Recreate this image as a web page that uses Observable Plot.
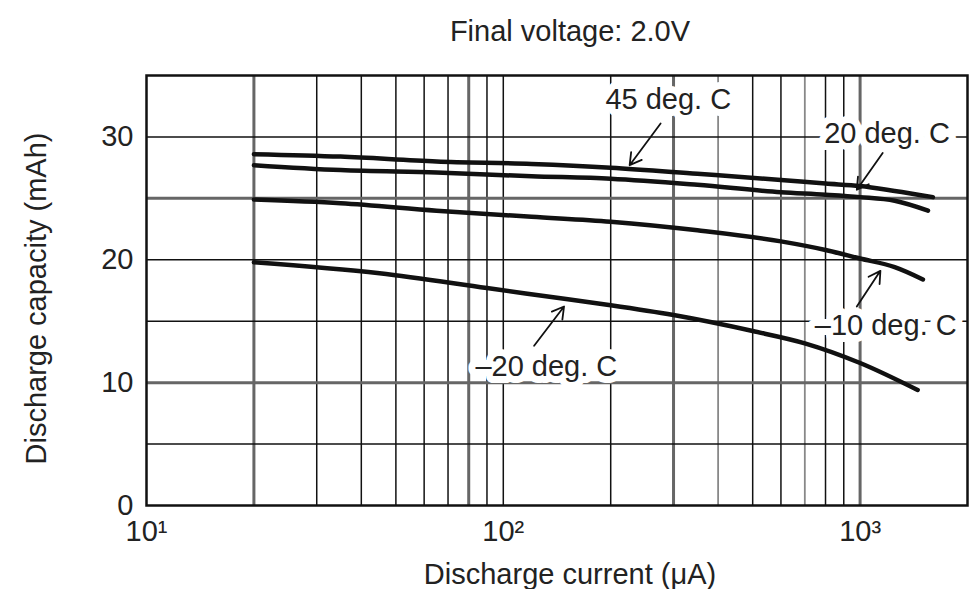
<!DOCTYPE html>
<html><head><meta charset="utf-8">
<script src="https://cdn.jsdelivr.net/npm/d3@7"></script>
<script src="https://cdn.jsdelivr.net/npm/@observablehq/plot@0.6"></script>
<style>
body{margin:0;background:#fff;font-family:"Liberation Sans",Arial,Helvetica,sans-serif;}
#title{box-sizing:border-box;height:50px;padding-top:17px;line-height:29px;font-size:29px;padding-left:171px;width:969px;text-align:center;color:#222;}
</style></head><body>
<div id="title">Final voltage: 2.0V</div>
<div id="chart"></div>
<script>
// Discharge current (µA) and capacity (mAh) per temperature
const x45 = [20, 35, 65, 120, 200, 350, 600, 800, 1000, 1250, 1600];
const y45 = [28.6, 28.4, 28.0, 27.8, 27.5, 27.0, 26.5, 26.2, 26.0, 25.6, 25.1];
const x20 = [20, 35, 65, 120, 200, 350, 600, 800, 1000, 1250, 1550];
const y20 = [27.7, 27.3, 27.1, 26.8, 26.6, 26.1, 25.5, 25.3, 25.1, 24.8, 24.0];
const xm10 = [20, 35, 65, 120, 200, 350, 600, 800, 1000, 1250, 1500];
const ym10 = [24.9, 24.6, 24.0, 23.5, 23.1, 22.4, 21.5, 20.8, 20.1, 19.4, 18.4];
const xm20 = [20, 45, 90, 150, 200, 300, 500, 700, 1000, 1450];
const ym20 = [19.8, 18.9, 17.7, 16.8, 16.3, 15.5, 14.2, 13.2, 11.6, 9.4];

const seriesNames = ["45 deg. C", "20 deg. C", "–10 deg. C", "–20 deg. C"];
const labelX = [290, 1190, 1180, 132];
const labelY = [33.0, 30.3, 14.6, 11.3];
const arrowX1 = [276, 1157, 979, 122];
const arrowY1 = [31.1, 28.7, 16.2, 13.0];
const arrowX2 = [226, 979, 1140, 148];
const arrowY2 = [27.7, 25.7, 19.1, 16.2];

const gridXDark = [30, 40, 50, 60, 70, 90, 100, 200, 500, 600, 800, 900];
const gridXGray = [20, 80, 300, 1000];
const gridXLight = [400, 700];
const gridYDark = [5, 15, 20, 30];
const gridYGray = [10, 25];

const xTicks = [10, 100, 1000];
const xTickLabels = ["10¹", "10²", "10³"];
const yTicks = [0, 10, 20, 30];
const xTitle = "Discharge current (μA)";
const yTitle = "Discharge capacity (mAh)";

const rows = [];
[[x45, y45], [x20, y20], [xm10, ym10], [xm20, ym20]].forEach(([xs, ys], k) => {
  xs.forEach((x, i) => rows.push({series: seriesNames[k], x, y: ys[i]}));
});
const labels = seriesNames.map((name, i) => ({name, x: labelX[i], y: labelY[i]}));
const arrows = seriesNames.map((name, i) => ({x1: arrowX1[i], y1: arrowY1[i], x2: arrowX2[i], y2: arrowY2[i]}));

const FS = 29;
const chart = Plot.plot({
  width: 969,
  height: 539,
  marginLeft: 146,
  marginRight: 2,
  marginTop: 25,
  marginBottom: 84,
  x: {type: "log", domain: [10, 2000]},
  y: {domain: [0, 35]},
  style: {fontFamily: "'Liberation Sans', Arial, Helvetica, sans-serif", fontSize: FS + "px", color: "#222", background: "white", overflow: "visible"},
  marks: [
    Plot.ruleX(gridXDark, {stroke: "#111", strokeWidth: 1.5}),
    Plot.ruleX(gridXLight, {stroke: "#888", strokeWidth: 1.8}),
    Plot.ruleX(gridXGray, {stroke: "#666", strokeWidth: 3}),
    Plot.ruleY(gridYDark, {stroke: "#111", strokeWidth: 1.5}),
    Plot.ruleY(gridYGray, {stroke: "#666", strokeWidth: 3}),
    Plot.text(labels, {x: "x", y: "y", text: "name", fill: "#222", stroke: "white", strokeWidth: 14, fontSize: FS}),
    Plot.line(rows, {x: "x", y: "y", z: "series", stroke: "#111", strokeWidth: 4.5, curve: "monotone-x"}),
    Plot.arrow(arrows, {x1: "x1", y1: "y1", x2: "x2", y2: "y2", stroke: "#111", strokeWidth: 1.8, headLength: 11}),
    Plot.frame({stroke: "#111", strokeWidth: 2.5}),
    Plot.axisX({ticks: xTicks, tickFormat: (d) => xTickLabels[xTicks.indexOf(d)], tickSize: 0, tickPadding: 15, label: null, fontSize: FS}),
    Plot.axisY({ticks: yTicks, tickSize: 0, tickPadding: 13, label: null, fontSize: FS}),
    Plot.text([xTitle], {frameAnchor: "bottom", dx: 13, dy: 69, lineAnchor: "middle", fontSize: FS, fill: "#222"}),
    Plot.text([yTitle], {frameAnchor: "left", textAnchor: "middle", dx: -110, dy: 8, rotate: -90, lineAnchor: "middle", fontSize: FS, fill: "#222"})
  ]
});
document.getElementById("chart").appendChild(chart);
</script>
</body></html>
